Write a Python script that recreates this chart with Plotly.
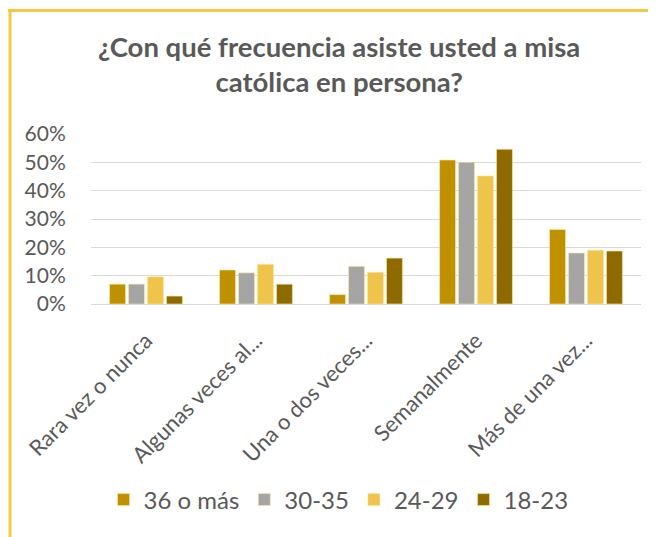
import plotly.graph_objects as go

categories = ["Rara vez o nunca", "Algunas veces al...", "Una o dos veces...", "Semanalmente", "Más de una vez..."]
series_names = ["36 o más", "30-35", "24-29", "18-23"]
v_36_mas = [0.07, 0.12, 0.033, 0.508, 0.263]
v_30_35 = [0.07, 0.11, 0.133, 0.50, 0.18]
v_24_29 = [0.096, 0.14, 0.112, 0.452, 0.19]
v_18_23 = [0.028, 0.07, 0.162, 0.546, 0.187]
y_ticks = [0, 0.1, 0.2, 0.3, 0.4, 0.5, 0.6]
y_tick_labels = ["0%", "10%", "20%", "30%", "40%", "50%", "60%"]

colors = ["#BF9000", "#A5A5A5", "#EEC44A", "#8F6A00"]
values = [v_36_mas, v_30_35, v_24_29, v_18_23]

# figure is placed at (8,8) in the page by the default body margin
W, H = 648, 529
L, R, T, B = 83, 15, 126, 233
pw, ph = W - L - R, H - T - B

def px_x(x):
    return (x - L) / pw

def px_y(y):
    return (H - B - y) / ph

fig = go.Figure()
for name, vals, col in zip(series_names, values, colors):
    fig.add_trace(go.Bar(
        x=categories, y=vals, name=name,
        marker=dict(color=col, line=dict(color="rgba(255,230,150,0.6)", width=1)),
    ))

font_family = "Lato, Open Sans, sans-serif"
fig.update_layout(
    width=W, height=H,
    paper_bgcolor="white", plot_bgcolor="white",
    margin=dict(l=L, r=R, t=T, b=B),
    barmode="group", bargap=0.31, bargroupgap=0.16,
    title=dict(
        text="<b>¿Con qué frecuencia asiste usted a misa<br>católica en persona?</b>",
        x=0.511, xanchor="center", y=1 - 48.5 / H, yanchor="middle",
        font=dict(family=font_family, size=27.5, color="#595959"),
    ),
    font=dict(family=font_family, color="#595959"),
    showlegend=True,
    legend=dict(
        orientation="h", x=0.45, xanchor="center", y=px_y(492), yanchor="middle",
        font=dict(size=24, color="#595959"), traceorder="normal",
        itemwidth=30,
    ),
    xaxis=dict(
        tickangle=-45, tickfont=dict(size=22, color="#595959"),
        showgrid=False, showline=True, linecolor="#D9D9D9", linewidth=1,
        ticks="", ticklabelstandoff=14,
    ),
    yaxis=dict(
        range=[0, 0.6], tickvals=y_ticks, ticktext=y_tick_labels,
        tickfont=dict(size=21, color="#595959"),
        showgrid=True, gridcolor="#D9D9D9", gridwidth=1,
        zeroline=False, showline=False,
        ticks="outside", ticklen=20, tickcolor="rgba(0,0,0,0)",
    ),
    shapes=[
        dict(type="line", xref="paper", yref="paper", x0=px_x(0), x1=px_x(W + 5),
             y0=px_y(2.5), y1=px_y(2.5), line=dict(color="#F5C842", width=3)),
        dict(type="line", xref="paper", yref="paper", x0=px_x(2), x1=px_x(2),
             y0=px_y(1), y1=px_y(H + 5), line=dict(color="#F5C842", width=3)),
    ],
)

fig.write_html("out.html")
